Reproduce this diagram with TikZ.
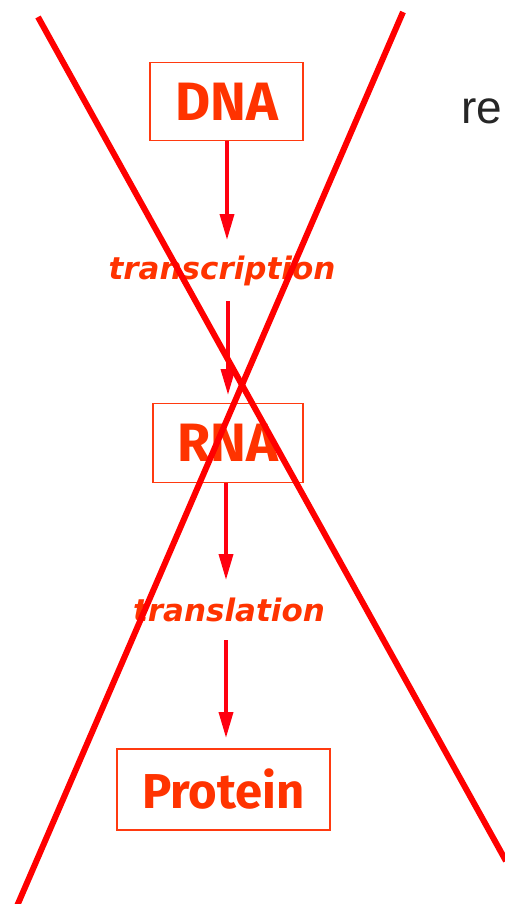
\documentclass[tikz,border=0pt]{standalone}
\usepackage{fontspec}
\setmainfont{Fira Sans}
\newfontfamily\refont{Liberation Sans}
\newfontfamily\procfont{DejaVu Sans}
\usetikzlibrary{arrows.meta}
\definecolor{boxred}{HTML}{FF3A10}
\definecolor{txtred}{HTML}{FF3300}
\definecolor{arrred}{HTML}{FF0010}
\tikzset{
  molbox/.style={draw=boxred, line width=1.6pt, fill=white, inner sep=0pt, text=txtred, font=\fontsize{54}{54}\selectfont\bfseries},
  proc/.style={text=txtred, font=\procfont\fontsize{31}{31}\selectfont\bfseries\itshape, inner sep=0pt},
  flow/.style={draw=arrred, line width=3.6pt, -{Triangle[length=26pt,width=14pt]}},
  cross/.style={draw=red, line width=6pt}
}
\begin{document}
\begin{tikzpicture}[x=1pt,y=-1pt]
\useasboundingbox (0,0) rectangle (505,904);
\clip (0,0) rectangle (505,904);
\fill[white] (0,0) rectangle (505,904);
\node[molbox, minimum width=153pt, minimum height=78pt] (dna) at (226.5,101.5) {DNA};
\node[molbox, minimum width=150pt, minimum height=79pt] (rna) at (228,443) {RNA};
\node[molbox, minimum width=213pt, minimum height=81pt, font=\fontsize{49}{49}\selectfont\bfseries] (prot) at (223.5,789.5) {Protein};
\node[proc] (tsc) at (222,271) {transcription};
\node[proc] (tsl) at (229,610) {translation};
\node[anchor=west, inner sep=0pt, font=\refont\fontsize{46}{46}\selectfont, text=black!85] (re) at (461,111) {re};
\coordinate (a1e) at (227,240);
\coordinate (a2s) at (228,301);
\coordinate (a2e) at (228,395);
\coordinate (a3e) at (226,580);
\coordinate (a4s) at (226,640);
\coordinate (a4e) at (226,738);
\draw[flow] (dna.south -| a1e) -- (a1e);
\draw[flow] (a2s) -- (a2e);
\draw[flow] (rna.south -| a3e) -- (a3e);
\draw[flow] (a4s) -- (a4e);
\coordinate (x1a) at (38,17);
\coordinate (x1b) at (506,861);
\coordinate (x2a) at (403,12);
\coordinate (x2b) at (17,906);
\draw[cross] (x1a) -- (x1b);
\draw[cross] (x2a) -- (x2b);
\end{tikzpicture}
\end{document}
